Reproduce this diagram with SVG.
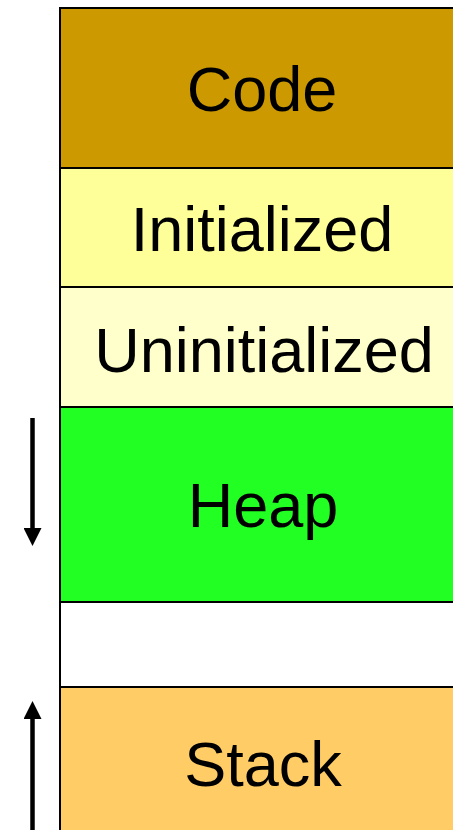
<svg xmlns="http://www.w3.org/2000/svg" width="453" height="830" viewBox="0 0 453 830">
  <style>
    .seg { stroke: #000; stroke-width: 2; }
    .lbl { font-family: "Liberation Sans", Arial, sans-serif; font-size: 63px; fill: #000; text-anchor: middle; }
    .arrow { stroke: #000; stroke-width: 4.5; fill: none; }
  </style>
  <defs>
    <!-- arrowhead drawn along +x, its base sits on the line end -->
    <marker id="head" markerUnits="userSpaceOnUse" markerWidth="18" markerHeight="18" refX="0" refY="9" orient="auto" viewBox="0 0 18 18">
      <path d="M0,0 L18,9 L0,18 Z" fill="#000"/>
    </marker>
  </defs>
  <rect width="453" height="830" fill="#fff"/>

  <g id="code">
    <rect class="seg" x="60" y="8" width="410" height="160" fill="#CC9900"/>
    <text class="lbl" x="262" y="111">Code</text>
  </g>
  <g id="initialized">
    <rect class="seg" x="60" y="168" width="410" height="119" fill="#FFFF99"/>
    <text class="lbl" x="262" y="251">Initialized</text>
  </g>
  <g id="uninitialized">
    <rect class="seg" x="60" y="287" width="410" height="120" fill="#FFFFCC"/>
    <text class="lbl" x="264" y="372">Uninitialized</text>
  </g>
  <g id="heap">
    <rect class="seg" x="60" y="407" width="410" height="195" fill="#22FF22"/>
    <text class="lbl" x="263" y="527">Heap</text>
  </g>
  <g id="free">
    <rect class="seg" x="60" y="602" width="410" height="85" fill="#fff"/>
  </g>
  <g id="stack">
    <rect class="seg" x="60" y="687" width="410" height="170" fill="#FFCC66"/>
    <text class="lbl" x="263" y="786">Stack</text>
  </g>

  <g id="connectors">
    <line class="arrow" x1="32.5" y1="418" x2="32.5" y2="528" marker-end="url(#head)"/>
    <line class="arrow" x1="32.5" y1="830" x2="32.5" y2="719" marker-end="url(#head)"/>
  </g>
</svg>
